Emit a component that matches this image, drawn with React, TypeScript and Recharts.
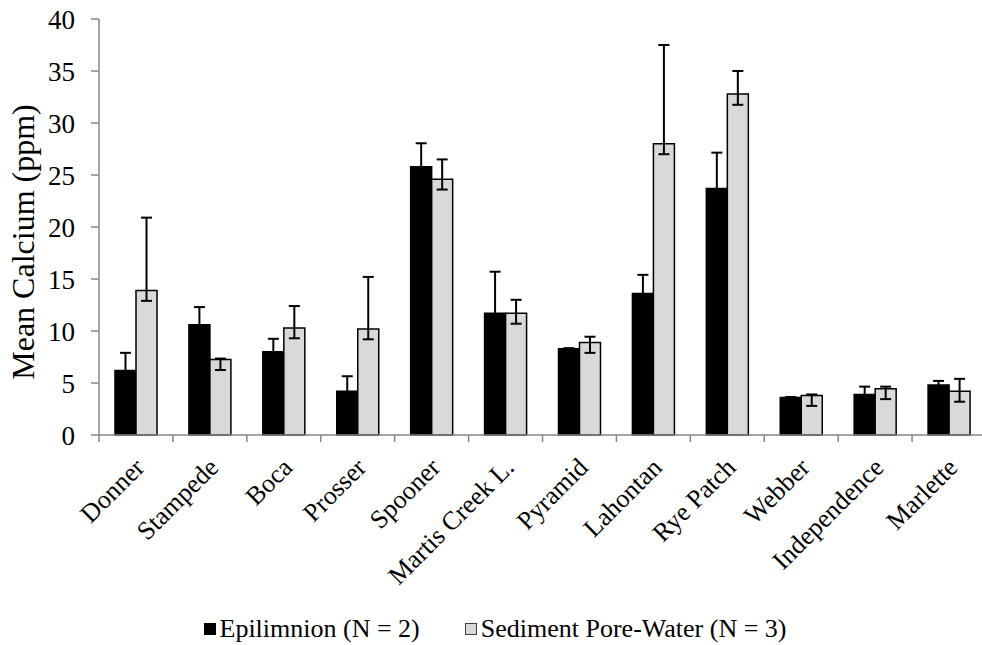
import React from 'react';
import {
  BarChart, Bar, XAxis, YAxis, ErrorBar, Legend, Label,
} from 'recharts';

const FONT = 'Liberation Serif, DejaVu Serif, serif';
const AXIS_GREY = '#868686';
const PORE_FILL = '#d9d9d9';

const lakes = [
  'Donner', 'Stampede', 'Boca', 'Prosser', 'Spooner', 'Martis Creek L.',
  'Pyramid', 'Lahontan', 'Rye Patch', 'Webber', 'Independence', 'Marlette',
];
const epilimnion = [6.2, 10.6, 8.0, 4.2, 25.8, 11.7, 8.3, 13.6, 23.7, 3.6, 3.9, 4.8];
const epilimnionErr = [1.7, 1.7, 1.25, 1.45, 2.25, 4.0, 0.05, 1.8, 3.45, 0.05, 0.75, 0.4];
const poreWater = [13.9, 7.25, 10.3, 10.2, 24.6, 11.7, 8.9, 28.0, 32.8, 3.8, 4.45, 4.2];
const poreWaterErrLow = [1.0, 1.0, 1.0, 1.0, 1.0, 1.0, 1.0, 1.0, 1.05, 1.0, 1.0, 1.0];
const poreWaterErrHigh = [7.0, 0.1, 2.1, 5.0, 1.9, 1.3, 0.55, 9.5, 2.2, 0.1, 0.2, 1.2];
const yTicks = [0, 5, 10, 15, 20, 25, 30, 35, 40];

const CHART_W = 990;
const CHART_H = 645;
const MARGIN = { top: 19, right: 4, left: 0, bottom: 0 };
const Y_W = 99;
const BAND = (CHART_W - MARGIN.left - MARGIN.right - Y_W) / lakes.length;

const data = lakes.map((name, i) => ({
  name,
  epi: epilimnion[i],
  epiErr: epilimnionErr[i],
  pore: poreWater[i],
  poreErr: [poreWaterErrLow[i], poreWaterErrHigh[i]],
}));

// rotated category label plus Excel-style tick marks on the band edges
const LakeTick = (props: any) => {
  const { x, y, payload, index } = props;
  const left = x - BAND / 2;
  const right = x + BAND / 2;
  return (
    <g>
      <line x1={left} y1={y} x2={left} y2={y + 7} stroke={AXIS_GREY} strokeWidth={1.5} />
      {index === lakes.length - 1 && (
        <line x1={right} y1={y} x2={right} y2={y + 7} stroke={AXIS_GREY} strokeWidth={1.5} />
      )}
      <text
        x={0} y={0}
        transform={`translate(${x + 10},${y + 34}) rotate(-45)`}
        textAnchor="end"
        style={{ fontFamily: FONT }} fontSize={26} fill="#000"
      >
        {payload.value}
      </text>
    </g>
  );
};

const YTitle = (props: any) => {
  const { viewBox } = props;
  const cx = viewBox.x + 23;
  const cy = viewBox.y + viewBox.height / 2 + 15;
  return (
    <text
      x={cx} y={cy}
      transform={`rotate(-90, ${cx}, ${cy})`}
      textAnchor="middle" dominantBaseline="central"
      style={{ fontFamily: FONT }} fontSize={32} fill="#000"
    >
      Mean Calcium (ppm)
    </text>
  );
};

const swatch = (fill: string, border: string) => ({
  display: 'inline-block', width: 12, height: 12, background: fill,
  border: `1px solid ${border}`, boxSizing: 'border-box' as const, marginRight: 4,
});

const LegendBox = () => (
  <div style={{
    display: 'flex', justifyContent: 'center', alignItems: 'center', height: 32,
    fontFamily: FONT, fontSize: 26, color: '#000', whiteSpace: 'nowrap',
  }}>
    <span style={swatch('#000', '#000')} />
    <span>Epilimnion (N = 2)</span>
    <span style={{ display: 'inline-block', width: 45 }} />
    <span style={swatch(PORE_FILL, '#404040')} />
    <span>Sediment Pore-Water (N = 3)</span>
  </div>
);

export default function App() {
  return (
    <div style={{
      position: 'absolute', left: 0, top: 0, width: 982, height: 645,
      overflow: 'hidden', background: '#fff', fontFamily: FONT,
    }}>
      <BarChart
        width={CHART_W} height={CHART_H} data={data} margin={MARGIN}
        barGap={0} barSize={21} style={{ fontFamily: FONT }}
      >
        <XAxis
          dataKey="name" height={178} interval={0}
          axisLine={{ stroke: AXIS_GREY, strokeWidth: 1.5 }}
          tickLine={false} tickSize={0} tickMargin={0}
          tick={<LakeTick />}
        />
        <YAxis
          width={Y_W} domain={[0, 40]} ticks={yTicks} interval={0}
          axisLine={{ stroke: AXIS_GREY, strokeWidth: 1.5 }}
          tickLine={{ stroke: AXIS_GREY, strokeWidth: 1.5 }}
          tickSize={8} tickMargin={16}
          tick={{ fill: '#000', fontSize: 27, style: { fontFamily: FONT } }}
        >
          <Label content={<YTitle />} />
        </YAxis>
        <Legend
          verticalAlign="bottom" align="center"
          content={<LegendBox />}
          wrapperStyle={{ left: 0, width: CHART_W }}
        />
        <Bar dataKey="epi" fill="#000" stroke="#000" strokeWidth={1.5} isAnimationActive={false}>
          <ErrorBar dataKey="epiErr" direction="y" width={5.5} stroke="#000" strokeWidth={2} />
        </Bar>
        <Bar dataKey="pore" fill={PORE_FILL} stroke="#000" strokeWidth={1.5} isAnimationActive={false}>
          <ErrorBar dataKey="poreErr" direction="y" width={5.5} stroke="#000" strokeWidth={2} />
        </Bar>
      </BarChart>
    </div>
  );
}
